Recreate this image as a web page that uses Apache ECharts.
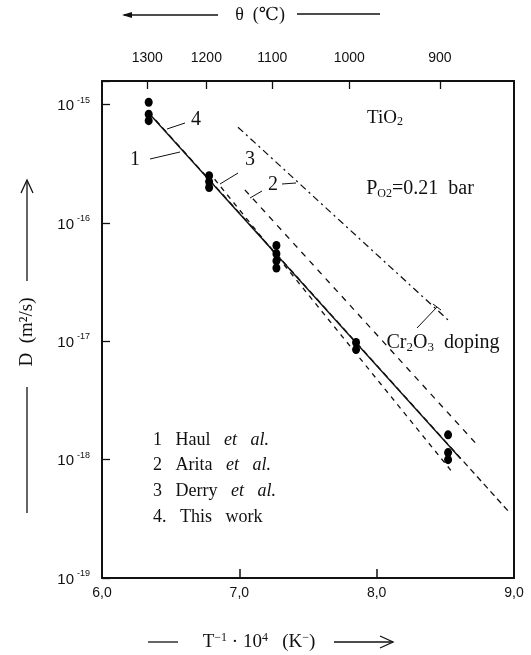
<!DOCTYPE html>
<html><head><meta charset="utf-8">
<script src="https://cdn.jsdelivr.net/npm/echarts@6/dist/echarts.min.js"></script>
<style>html,body{margin:0;padding:0;background:#fff}#c{width:531px;height:655px}</style>
</head><body><div id="c"></div>
<script>
// ---- data (x = 10^4/T, y = log10 D in m^2/s) ----
const xTickValues = [6, 7, 8, 9];
const yTickValues = [-19, -18, -17, -16, -15];
const topTickPos = [6.33, 6.76, 7.24, 7.80, 8.46];
const topTickLabels = ['1300', '1200', '1100', '1000', '900'];

const dotsX    = [6.34, 6.34, 6.34, 6.78, 6.78, 6.78, 7.27, 7.27, 7.27, 7.27, 7.85, 7.85, 8.52, 8.52, 8.52];
const dotsLogD = [-14.98, -15.08, -15.135, -15.60, -15.65, -15.70, -16.19, -16.26, -16.32, -16.38, -17.01, -17.07, -17.79, -17.94, -18.00];

const line1X = [6.39, 8.97];   const line1Y = [-15.13, -18.45];   // Haul et al.
const line2X = [7.04, 8.72];   const line2Y = [-15.72, -17.86];   // Arita et al.
const line2dX = [6.99, 8.52];  const line2dY = [-15.19, -16.82];  // Arita, Cr2O3 doping
const line3X = [6.82, 8.54];   const line3Y = [-15.63, -18.09];   // Derry et al.
const line4X = [6.34, 8.61];   const line4Y = [-15.07, -17.99];   // This work

const pairs = (xs, ys) => xs.map((x, i) => [x, ys[i]]);

const chart = echarts.init(document.getElementById('c'), null, {renderer: 'canvas'});
const serif = "'Liberation Serif','DejaVu Serif',serif";
const narrow = "'Liberation Sans Narrow','Liberation Sans',Arial,sans-serif";
const ink = '#111';

function lineSeries(xs, ys, type, w) {
  return {type: 'line', data: pairs(xs, ys), symbol: 'none', silent: true,
    lineStyle: {color: ink, width: w || 1.3, type: type}, z: 3};
}
const sty = (size, extra) => Object.assign({font: size + 'px ' + serif, fill: ink}, extra || {});

const option = {
  animation: false,
  backgroundColor: '#fff',
  grid: {left: 102, right: 17, top: 81, bottom: 77},
  xAxis: [{
    type: 'value', position: 'bottom', min: 6, max: 9, interval: 1,
    axisLine: {lineStyle: {color: ink, width: 2}},
    axisTick: {inside: true, length: 9, lineStyle: {color: ink, width: 1.5}},
    axisLabel: {color: ink, fontFamily: narrow, fontSize: 14, margin: 8,
      formatter: v => xTickValues.includes(v) ? v.toFixed(1).replace('.', ',') : ''},
    splitLine: {show: false}
  }, {
    type: 'value', position: 'top', min: 6, max: 9,
    axisLine: {lineStyle: {color: ink, width: 2}},
    axisTick: {inside: true, length: 8, customValues: topTickPos, lineStyle: {color: ink, width: 1.3}},
    axisLabel: {color: ink, fontFamily: narrow, fontSize: 14, margin: 16, customValues: topTickPos,
      formatter: v => { const i = topTickPos.findIndex(p => Math.abs(p - v) < 1e-6); return i >= 0 ? topTickLabels[i] : ''; }},
    splitLine: {show: false}
  }],
  yAxis: [{
    type: 'value', position: 'left', min: -19, max: -14.8, interval: 1,
    axisLine: {lineStyle: {color: ink, width: 2}},
    axisTick: {inside: true, length: 8, lineStyle: {color: ink, width: 1.3}},
    axisLabel: {margin: 12, color: ink,
      formatter: v => yTickValues.includes(v) ? '{b|10}{s|' + v + '}' : '',
      rich: {
        b: {fontFamily: narrow, fontSize: 15, color: ink, lineHeight: 18, verticalAlign: 'bottom'},
        s: {fontFamily: narrow, fontSize: 9, color: ink, verticalAlign: 'top', padding: [0, 0, 0, 3]}
      }},
    splitLine: {show: false}
  }, {
    type: 'value', position: 'right', min: -19, max: -14.8,
    axisLine: {show: true, lineStyle: {color: ink, width: 2}},
    axisTick: {show: false}, axisLabel: {show: false}, splitLine: {show: false}
  }],
  series: [
    lineSeries(line4X, line4Y, 'solid', 1.4),
    lineSeries(line1X, line1Y, [6, 4], 1.3),
    lineSeries(line3X, line3Y, [5, 5], 1.3),
    lineSeries(line2X, line2Y, [6, 6], 1.3),
    lineSeries(line2dX, line2dY, [7, 4, 2, 4], 1.3),
    {type: 'scatter', data: pairs(dotsX, dotsLogD), symbol: 'circle', symbolSize: [8, 9],
      itemStyle: {color: '#000', opacity: 1}, z: 5, silent: true}
  ],
  graphic: [
    // top title
    {type: 'line', shape: {x1: 124, y1: 15, x2: 218, y2: 15}, style: {stroke: ink, lineWidth: 1.3}},
    {type: 'polygon', shape: {points: [[122, 15], [132, 12], [132, 18]]}, style: {fill: ink}},
    {type: 'text', x: 260, y: 15, style: {text: 'θ  (℃)', font: '18px ' + serif, fill: ink, align: 'center', verticalAlign: 'middle'}},
    {type: 'line', shape: {x1: 297, y1: 14, x2: 380, y2: 14}, style: {stroke: ink, lineWidth: 1.3}},
    // left title
    {type: 'line', shape: {x1: 27, y1: 281, x2: 27, y2: 181}, style: {stroke: ink, lineWidth: 1.3}},
    {type: 'polyline', shape: {points: [[21, 193], [27, 180], [33, 193]]}, style: {stroke: ink, lineWidth: 1.3, fill: null}},
    {type: 'text', x: 27, y: 332, rotation: Math.PI / 2,
      style: {text: 'D  (m²/s)', font: '19px ' + serif, fill: ink, align: 'center', verticalAlign: 'middle'}},
    {type: 'line', shape: {x1: 27, y1: 387, x2: 27, y2: 513}, style: {stroke: ink, lineWidth: 1.3}},
    // bottom title
    {type: 'line', shape: {x1: 148, y1: 642, x2: 178, y2: 642}, style: {stroke: ink, lineWidth: 1.3}},
    {type: 'text', x: 259, y: 642, style: {
      rich: {a: sty(19), s: sty(12, {padding: [0, 0, 9, 0]})},
      text: '{a|T}{s|−1}{a| · 10}{s|4}{a|   (K}{s|−}{a|)}', align: 'center', verticalAlign: 'middle'}},
    {type: 'line', shape: {x1: 334, y1: 642, x2: 393, y2: 642}, style: {stroke: ink, lineWidth: 1.3}},
    {type: 'polyline', shape: {points: [[380, 636], [393, 642], [380, 648]]}, style: {stroke: ink, lineWidth: 1.3, fill: null}},
    // in-plot annotations
    {type: 'text', x: 385, y: 118, style: {rich: {a: sty(19), s: sty(12, {padding: [8, 0, 0, 0]})},
      text: '{a|TiO}{s|2}', align: 'center', verticalAlign: 'middle'}},
    {type: 'text', x: 420, y: 189, style: {rich: {a: sty(20), s: sty(12, {padding: [9, 0, 0, 0]})},
      text: '{a|P}{s|O2}{a|=0.21  bar}', align: 'center', verticalAlign: 'middle'}},
    {type: 'text', x: 443, y: 343, style: {rich: {a: sty(20), s: sty(13, {padding: [9, 0, 0, 0]})},
      text: '{a|Cr}{s|2}{a|O}{s|3}{a|  doping}', align: 'center', verticalAlign: 'middle'}},
    {type: 'line', shape: {x1: 417, y1: 328, x2: 437, y2: 307}, style: {stroke: ink, lineWidth: 1}},
    {type: 'line', shape: {x1: 433, y1: 304, x2: 441, y2: 310}, style: {stroke: ink, lineWidth: 1}},
    // curve labels
    {type: 'text', x: 135, y: 160, style: {text: '1', font: '20px ' + serif, fill: ink, align: 'center', verticalAlign: 'middle'}},
    {type: 'line', shape: {x1: 150, y1: 159, x2: 180, y2: 152}, style: {stroke: ink, lineWidth: 1}},
    {type: 'text', x: 196, y: 120, style: {text: '4', font: '20px ' + serif, fill: ink, align: 'center', verticalAlign: 'middle'}},
    {type: 'line', shape: {x1: 167, y1: 129, x2: 185, y2: 123}, style: {stroke: ink, lineWidth: 1}},
    {type: 'text', x: 250, y: 160, style: {text: '3', font: '20px ' + serif, fill: ink, align: 'center', verticalAlign: 'middle'}},
    {type: 'line', shape: {x1: 220, y1: 184, x2: 238, y2: 173}, style: {stroke: ink, lineWidth: 1}},
    {type: 'text', x: 273, y: 185, style: {text: '2', font: '20px ' + serif, fill: ink, align: 'center', verticalAlign: 'middle'}},
    {type: 'line', shape: {x1: 282, y1: 184, x2: 296, y2: 183}, style: {stroke: ink, lineWidth: 1}},
    {type: 'line', shape: {x1: 250, y1: 198, x2: 262, y2: 191}, style: {stroke: ink, lineWidth: 1}},
    // legend text
    {type: 'text', x: 153, y: 440, style: {rich: {a: sty(18), i: sty(18, {font: 'italic 18px ' + serif})},
      text: '{a|1   Haul   }{i|et   al.}', verticalAlign: 'middle'}},
    {type: 'text', x: 153, y: 465, style: {rich: {a: sty(18), i: sty(18, {font: 'italic 18px ' + serif})},
      text: '{a|2   Arita   }{i|et   al.}', verticalAlign: 'middle'}},
    {type: 'text', x: 153, y: 491, style: {rich: {a: sty(18), i: sty(18, {font: 'italic 18px ' + serif})},
      text: '{a|3   Derry   }{i|et   al.}', verticalAlign: 'middle'}},
    {type: 'text', x: 153, y: 517, style: {rich: {a: sty(18)},
      text: '{a|4.   This   work}', verticalAlign: 'middle'}}
  ]
};
chart.setOption(option);
</script>
</body></html>
